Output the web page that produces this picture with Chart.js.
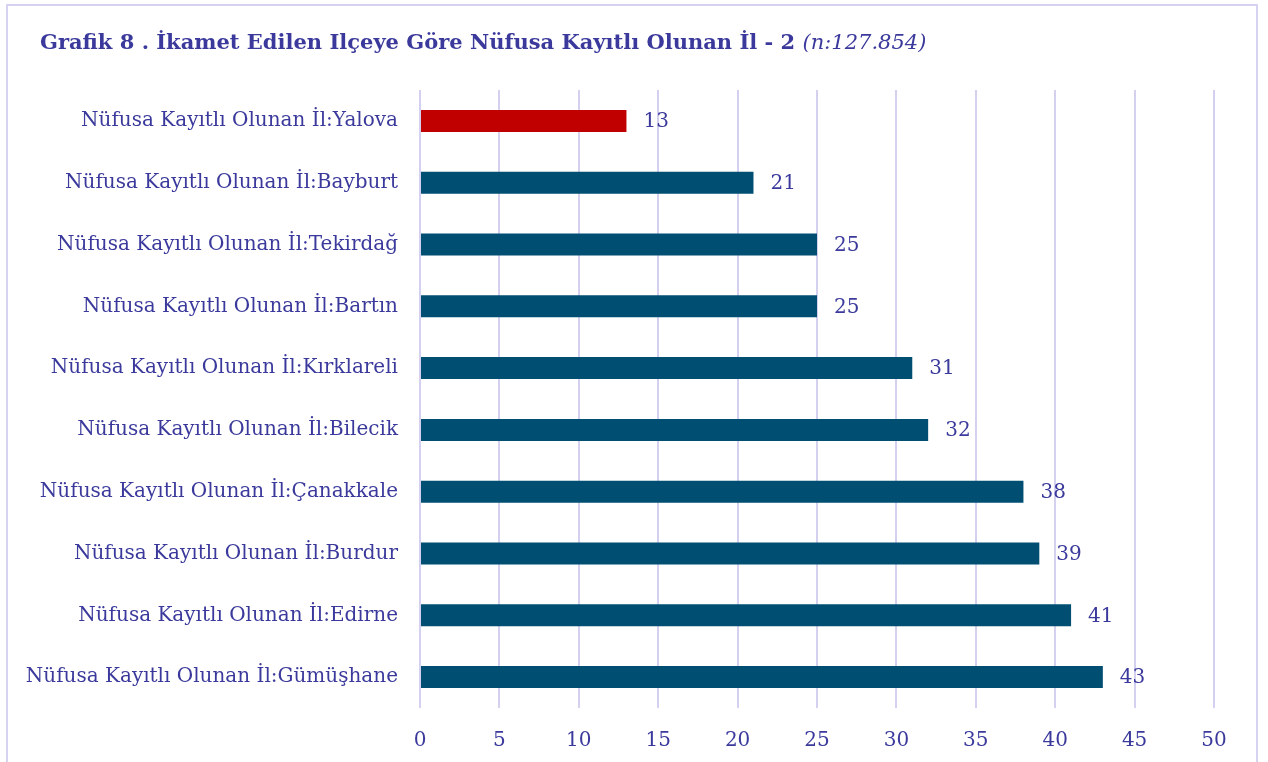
<!DOCTYPE html>
<html>
<head>
<meta charset="utf-8">
<script src="https://cdn.jsdelivr.net/npm/chart.js@4/dist/chart.umd.min.js"></script>
<style>
  html, body { margin: 0; padding: 0; background: #ffffff; overflow: hidden; }
  #frame {
    position: absolute; left: 6px; top: 4px; width: 1252px; height: 800px;
    border: 2px solid #d6d3f2; box-sizing: border-box;
  }
  #wrap { position: absolute; left: 0; top: 0; width: 1268px; height: 762px; }
</style>
</head>
<body>
<div id="frame"></div>
<div id="wrap"><canvas id="mainChart"></canvas></div>
<script>
const titleMain = 'Grafik 8 . İkamet Edilen Ilçeye Göre Nüfusa Kayıtlı Olunan İl - 2';
const titleNote = '(n:127.854)';

const categories = [
    'Nüfusa Kayıtlı Olunan İl:Yalova',
    'Nüfusa Kayıtlı Olunan İl:Bayburt',
    'Nüfusa Kayıtlı Olunan İl:Tekirdağ',
    'Nüfusa Kayıtlı Olunan İl:Bartın',
    'Nüfusa Kayıtlı Olunan İl:Kırklareli',
    'Nüfusa Kayıtlı Olunan İl:Bilecik',
    'Nüfusa Kayıtlı Olunan İl:Çanakkale',
    'Nüfusa Kayıtlı Olunan İl:Burdur',
    'Nüfusa Kayıtlı Olunan İl:Edirne',
    'Nüfusa Kayıtlı Olunan İl:Gümüşhane'
];
const counts = [13, 21, 25, 25, 31, 32, 38, 39, 41, 43];
const highlighted = ['Nüfusa Kayıtlı Olunan İl:Yalova'];

const xMin = 0;
const xMax = 50;
const xStep = 5;

const textColor = '#3b3a9c';
const barColor = '#004f72';
const highlightColor = '#c00000';
const gridColor = '#d4d0f0';
const fontFamily = "'DejaVu Serif', 'Liberation Serif', serif";

// title: bold part + italic note
const titlePlugin = {
    id: 'titleText',
    afterDraw(chart) {
        const ctx = chart.ctx;
        ctx.save();
        ctx.fillStyle = textColor;
        ctx.textBaseline = 'middle';
        ctx.textAlign = 'left';
        ctx.font = 'bold 21px ' + fontFamily;
        ctx.fillText(titleMain, 40, 44);
        const w = ctx.measureText(titleMain + ' ').width;
        ctx.font = 'italic 21px ' + fontFamily;
        ctx.fillText(titleNote, 40 + w, 44);
        ctx.restore();
    }
};

// value labels to the right of each bar
const valueLabels = {
    id: 'valueLabels',
    afterDatasetsDraw(chart) {
        const ctx = chart.ctx;
        const meta = chart.getDatasetMeta(0);
        ctx.save();
        ctx.fillStyle = textColor;
        ctx.font = '20px ' + fontFamily;
        ctx.textAlign = 'left';
        ctx.textBaseline = 'middle';
        meta.data.forEach((bar, i) => {
            ctx.fillText(String(counts[i]), bar.x + 17, bar.y + 1);
        });
        ctx.restore();
    }
};

function initializeChart() {
    const ctx = document.getElementById('mainChart').getContext('2d');

    new Chart(ctx, {
        type: 'bar',
        data: {
            labels: categories,
            datasets: [{
                data: counts,
                backgroundColor: categories.map(c => highlighted.includes(c) ? highlightColor : barColor),
                borderWidth: 0,
                barPercentage: 0.356,
                categoryPercentage: 1.0
            }]
        },
        options: {
            indexAxis: 'y',
            responsive: false,
            animation: false,
            layout: {
                padding: { top: 90, right: 54, left: 0, bottom: 0 }
            },
            plugins: {
                legend: { display: false },
                tooltip: { enabled: false },
                title: { display: false }
            },
            scales: {
                x: {
                    min: xMin,
                    max: xMax,
                    ticks: {
                        stepSize: xStep,
                        color: textColor,
                        padding: 21,
                        font: { family: fontFamily, size: 20 }
                    },
                    grid: {
                        color: gridColor,
                        lineWidth: 2,
                        drawTicks: false
                    },
                    border: { display: false },
                    afterFit(scale) { scale.height = 54; }
                },
                y: {
                    ticks: {
                        color: textColor,
                        padding: 22,
                        font: { family: fontFamily, size: 20 }
                    },
                    grid: { display: false, drawTicks: false },
                    border: { display: false },
                    afterFit(scale) { scale.width = 420; }
                }
            }
        },
        plugins: [titlePlugin, valueLabels]
    });
}

const canvas = document.getElementById('mainChart');
canvas.width = 1268;
canvas.height = 762;
initializeChart();
</script>
</body>
</html>
